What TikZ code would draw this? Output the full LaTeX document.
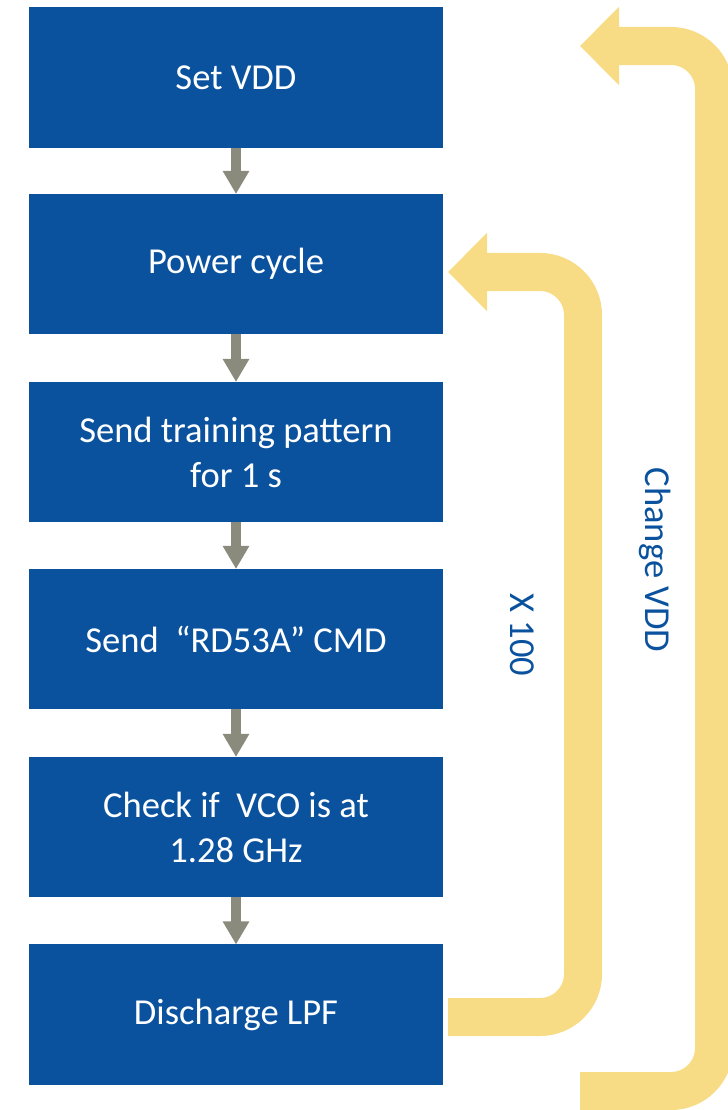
\documentclass[tikz,border=0pt]{standalone}
\usepackage{fontspec}
\setmainfont{Carlito}
\usetikzlibrary{arrows.meta}
\definecolor{boxblue}{RGB}{10,82,158}
\definecolor{stepgray}{RGB}{139,139,125}
\definecolor{loopyellow}{RGB}{247,220,133}

\begin{document}
\begin{tikzpicture}[x = 0.025cm, y = -0.025cm,
  stepbox/.style={fill=boxblue, text=white, minimum width=10.35cm, minimum height=3.5cm, align=center, inner sep=0pt, outer sep=0pt, font=\fontsize{26}{32}\selectfont},
  steparrow/.style={draw=stepgray, line width=7.1pt, -{Triangle[length=16.4pt, width=17.8pt]}},
  looparrow/.style={draw=loopyellow, line width=0.95cm, rounded corners=1.075cm, -{Triangle[length=0.975cm, width=1.9cm]}},
  looplabel/.style={text=boxblue, rotate=-90, font=\fontsize{26}{32}\selectfont}]
\useasboundingbox (0, 0) rectangle (728, 1110);

\node[stepbox] (vdd) at (236, 77.5) {Set VDD};
\node[stepbox] (power) at (236, 264) {Power cycle};
\node[stepbox] (train) at (236, 452) {Send training pattern\\for 1 s};
\node[stepbox] (cmd) at (236, 639) {Send\ \ “RD53A” CMD};
\node[stepbox] (vco) at (236, 827) {Check if\ \ VCO is at\\1.28 GHz};
\node[stepbox] (lpf) at (236, 1014.5) {Discharge LPF};

\draw[steparrow] (vdd) -- (power);
\draw[steparrow] (power) -- (train);
\draw[steparrow] (train) -- (cmd);
\draw[steparrow] (cmd) -- (vco);
\draw[steparrow] (vco) -- (lpf);


\coordinate (innerstart) at (448, 1017);
\coordinate (innertip) at (448, 272);
\draw[looparrow] (innerstart) -| (583, 272) -- (innertip);
\node[looplabel] (count) at (522, 635) {X 100};

\coordinate (outerstart) at (580, 1091);
\coordinate (outertip) at (580, 46);
\draw[looparrow] (outerstart) -| (714, 46) -- (outertip);
\node[looplabel] (change) at (655, 560) {Change VDD};

\end{tikzpicture}
\end{document}
